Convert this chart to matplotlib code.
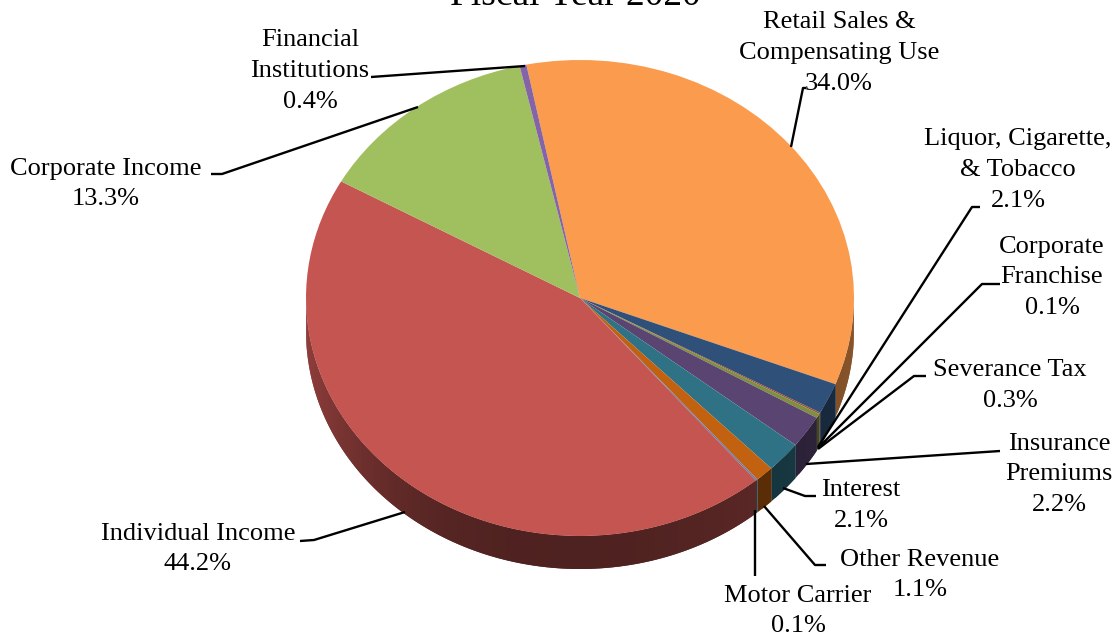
#!/usr/bin/env python3
import matplotlib
matplotlib.use('Agg')
import matplotlib.pyplot as plt
import numpy as np

# Slices, clockwise from the top
names = ['Retail Sales &\nCompensating Use', 'Liquor, Cigarette,\n& Tobacco',
         'Corporate\nFranchise', 'Severance Tax', 'Insurance\nPremiums',
         'Interest', 'Other Revenue', 'Motor Carrier', 'Individual Income',
         'Corporate Income', 'Financial\nInstitutions']
shares = [34.0, 2.1, 0.1, 0.3, 2.2, 2.1, 1.1, 0.1, 44.2, 13.3, 0.4]
colors = ['#FA9B4D', '#2F5079', '#9C4A3C', '#7F8F3F', '#5A4572', '#2F7286',
          '#C2610F', '#5F7FB0', '#C45551', '#A0BF5E', '#8464A6']

W, H = 1120, 639
CX, CY, RX, RY, DEPTH = 580, 298, 274, 238, 33

plt.rcParams['font.family'] = ['Liberation Serif', 'DejaVu Serif']
fig = plt.figure(figsize=(W / 100, H / 100), dpi=100)

# Axes for the pie: one data unit is the pie radius, squashed to look tilted
ax = fig.add_axes([0, 0, 1, 1])
wedges, _ = ax.pie(shares, colors=colors, startangle=101.3, counterclock=False,
                   wedgeprops={'linewidth': 0, 'zorder': 3})
ax.set_aspect('auto')
ax.set_xlim(-CX / RX, (W - CX) / RX)
ax.set_ylim((CY - H) / RY, CY / RY)


def wall_shade(ang):
    # light falls off from the left edge to the bottom of the pie
    a = np.radians(ang)
    if ang < -90:
        return 0.40 + 0.32 * max(0, -np.cos(a)) ** 3
    return 0.40 + 0.14 * max(0, np.cos(a)) ** 2


# Side wall of the pie, in overlapping strips so no seams show
for wedge, col in zip(wedges, colors):
    t1, t2 = max(wedge.theta1, -180), min(wedge.theta2, 0)
    if t2 <= t1:
        continue
    base = np.array(matplotlib.colors.to_rgb(col))
    edges = np.linspace(t1, t2, max(2, int((t2 - t1) / 1.0) + 1))
    for k, (a0, a1) in enumerate(zip(edges[:-1], edges[1:])):
        # every strip reaches into the next one, which is drawn on top of it
        th = np.radians(np.linspace(a0, edges[min(k + 2, len(edges) - 1)], 4))
        xs = np.cos(th)
        ys = np.sin(th)
        shade = base * wall_shade((a0 + a1) / 2)
        ax.fill(np.r_[xs, xs[::-1]], np.r_[ys, ys[::-1] - DEPTH / RY],
                color=shade, linewidth=0, zorder=2)

# Overlay in pixel coordinates for the text and the leader lines
ov = fig.add_axes([0, 0, 1, 1], facecolor='none')
ov.set_xlim(0, W)
ov.set_ylim(H, 0)
ov.axis('off')

ov.text(575, 5, 'Fiscal Year 2020', ha='center', va='baseline', fontsize=27,
        color='black', clip_on=False)

# centre x, y of the first line
label_pos = [(839, 20), (1018, 137), (1052, 244), (1010, 368), (1059, 441),
             (861, 488), (920, 557), (798, 593), (198, 531), (106, 166),
             (310, 38)]
LINE_H = 30.6
for name, share, (x, y) in zip(names, shares, label_pos):
    for i, line in enumerate((name + '\n%.1f%%' % share).split('\n')):
        ov.text(x, y + i * LINE_H, line, ha='center', va='center_baseline',
                fontsize=19, color='black')

leaders = [
    [(806, 88), (803, 88), (791, 147)],
    [(980, 207), (972, 207), (818, 447)],
    [(1000, 284), (982, 284), (818, 448)],
    [(926, 376), (914, 376), (818, 449)],
    [(1000, 451), (806, 464)],
    [(816, 496), (805, 496), (783, 488)],
    [(826, 565), (815, 565), (764, 506)],
    [(755, 576), (755, 510)],
    [(300, 541), (314, 540), (405, 512)],
    [(211, 174), (222, 174), (418, 107)],
    [(371, 77), (525, 66)],
]
for pts in leaders:
    px, py = zip(*pts)
    ov.plot(px, py, color='black', linewidth=1.7, solid_capstyle='butt')

fig.savefig('out.png', dpi=100)
